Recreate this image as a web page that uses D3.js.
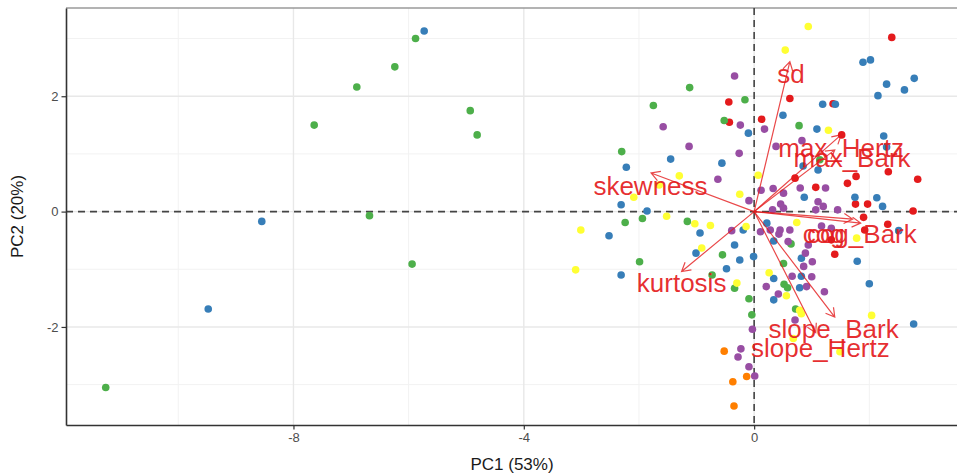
<!DOCTYPE html>
<html>
<head>
<meta charset="utf-8">
<script src="https://cdn.jsdelivr.net/npm/d3@7"></script>
<style>
  body { margin: 0; background: #fff; }
  svg { display: block; font-family: "Liberation Sans", Arial, sans-serif; }
</style>
</head>
<body>
<svg id="biplot" width="957" height="475"></svg>
<script>
// PCA scores, one array per group (Set1 colours: red, blue, green, purple, orange, yellow)
const scoresRed = [
  [2.39, 3.02], [0.62, 1.96], [-0.44, 1.90], [0.13, 1.60], [-0.43, 1.55], [1.37, 1.87],
  [1.52, 1.33], [0.71, 0.58], [1.07, 0.42], [1.77, 0.61], [1.62, 0.49], [2.33, 0.69],
  [2.84, 0.56], [1.76, 0.13], [1.97, 0.13], [2.76, 0.01], [1.90, -0.10], [2.32, -0.22],
  [1.92, -0.32], [1.40, -0.74], [1.34, -0.49]
];
const scoresBlue = [
  [-5.73, 3.13], [-8.55, -0.17], [-9.48, -1.69], [-2.22, 0.77], [-2.31, 0.12], [-2.52, -0.42],
  [-2.31, -1.10], [-1.45, 0.91], [-1.86, 0.01], [-1.01, -0.72], [-0.94, -0.37], [-0.56, 0.84],
  [-0.10, 1.36], [0.50, 1.67], [1.09, 1.43], [1.19, 1.86], [1.41, 1.86], [1.89, 2.59],
  [2.02, 2.63], [2.78, 2.31], [2.30, 2.21], [2.61, 2.11], [2.15, 2.01], [2.25, 1.31],
  [2.30, 1.12], [1.11, 0.72], [0.85, 0.79], [0.87, 0.25], [1.75, 0.25], [2.13, 0.24],
  [2.23, 0.09], [2.51, -0.33], [1.79, -0.86], [2.00, -1.25], [2.77, -1.95], [-0.34, -0.58],
  [-0.25, -0.84], [-0.01, -0.78], [-0.48, -0.99], [-0.19, -0.32], [0.22, -0.20], [0.34, -0.51],
  [0.34, -1.53], [0.34, -1.16], [0.79, -1.32], [0.82, -1.12], [0.82, -0.81]
];
const scoresGreen = [
  [-11.26, -3.05], [-7.64, 1.50], [-6.90, 2.16], [-6.24, 2.51], [-5.88, 3.00], [-4.93, 1.75],
  [-4.81, 1.33], [-6.68, -0.07], [-5.94, -0.91], [-2.30, 1.04], [-2.24, -0.19], [-1.94, -0.12],
  [-1.99, -0.87], [-1.75, 1.84], [-1.12, 2.15], [-1.16, -0.17], [-0.16, 1.94], [-0.52, 1.58],
  [0.78, 1.49], [-0.55, -0.75], [-0.73, -1.10], [-0.34, -1.33], [-0.09, -1.51], [-0.04, -1.79],
  [0.51, -0.90], [0.52, -1.26], [0.58, -1.32], [0.64, -0.56], [0.72, -1.69], [1.14, 0.90]
];
const scoresPurple = [
  [-0.34, 2.35], [-1.58, 1.47], [-1.13, 1.13], [-0.24, 1.50], [0.18, 1.43], [-0.26, 1.01],
  [-0.63, 0.56], [0.38, 1.13], [0.83, 1.23], [0.12, 0.37], [0.33, 0.40], [0.51, 0.32],
  [0.80, 0.41], [1.24, 0.41], [-0.09, 0.19], [0.46, 0.13], [0.32, 0.03], [0.51, 0.06],
  [1.11, 0.17], [1.20, 0.09], [1.07, 0.03], [1.45, 0.03], [-0.39, -0.33], [0.11, -0.35],
  [0.28, -0.32], [0.45, -0.32], [0.62, -0.32], [0.43, -0.39], [0.59, -0.52], [0.94, -0.58],
  [0.89, -0.72], [1.01, -0.87], [0.86, -0.95], [0.66, -1.12], [1.00, -1.13], [0.91, -1.30],
  [0.21, -1.30], [0.42, -1.43], [1.22, -1.39], [0.71, -1.88], [-0.03, -2.04], [-0.23, -2.38],
  [-0.28, -2.52], [-0.09, -2.69], [0.01, -2.85], [1.17, -0.25], [1.34, -0.29]
];
const scoresOrange = [
  [-0.52, -2.42], [-0.13, -2.86], [-0.37, -2.95], [-0.35, -3.37]
];
const scoresYellow = [
  [0.94, 3.21], [0.54, 2.80], [1.29, 1.41], [-1.30, 0.62], [-2.09, 0.25], [-3.01, -0.32],
  [-3.10, -1.01], [-1.52, -0.08], [0.07, 0.63], [-0.25, 0.30], [-1.03, -0.21], [-0.76, -0.24],
  [-0.14, -0.26], [-0.91, -0.63], [-0.30, -1.24], [0.26, -1.06], [0.56, -1.46], [0.79, -1.71],
  [0.82, -1.77], [2.04, -1.80], [0.68, -2.20], [1.49, -2.43], [0.74, -0.19], [1.78, -0.46],
  [-1.65, 0.46]
];

// variable loadings (arrow tips) and their label anchors
const varNames = ["sd", "skewness", "kurtosis", "max_Hertz", "max_Bark", "cog", "cog_Bark", "slope_Bark", "slope_Hertz"];
const loadX = [0.62, -1.79, -1.26, 1.51, 1.40, 1.71, 1.85, 1.40, 1.07];
const loadY = [2.60, 0.67, -1.04, 1.33, 1.07, -0.13, -0.20, -1.83, -2.10];
const labelX = [0.64, -1.80, -1.26, 1.51, 1.70, 1.21, 1.87, 1.38, 1.15];
const labelY = [2.23, 0.29, -1.39, 0.95, 0.78, -0.54, -0.54, -2.19, -2.52];

const xMajor = [-8, -4, 0];
const xMinor = [-10, -6, -2, 2];
const yMajor = [-2, 0, 2];
const yMinor = [-3, -1, 1, 3];

const groupData = [scoresRed, scoresBlue, scoresGreen, scoresPurple, scoresOrange, scoresYellow];
const color = d3.scaleOrdinal().domain(d3.range(6)).range(d3.schemeSet1);

const svg = d3.select("#biplot");
const panelLeft = 66, panelRight = 958, panelTop = 8, panelBottom = 425;

const x = d3.scaleLinear().domain([-11.95, 3.54]).range([panelLeft, panelRight]);
const y = d3.scaleLinear().domain([-3.70, 3.53]).range([panelBottom, panelTop]);

// grid
const grid = svg.append("g");
grid.selectAll(".xminor").data(xMinor).enter().append("line")
  .attr("x1", d => x(d)).attr("x2", d => x(d)).attr("y1", panelTop).attr("y2", panelBottom)
  .attr("stroke", "#f2f2f2").attr("stroke-width", 1);
grid.selectAll(".yminor").data(yMinor).enter().append("line")
  .attr("y1", d => y(d)).attr("y2", d => y(d)).attr("x1", panelLeft).attr("x2", panelRight)
  .attr("stroke", "#f2f2f2").attr("stroke-width", 1);
grid.selectAll(".xmajor").data(xMajor).enter().append("line")
  .attr("x1", d => x(d)).attr("x2", d => x(d)).attr("y1", panelTop).attr("y2", panelBottom)
  .attr("stroke", "#e8e8e8").attr("stroke-width", 1.4);
grid.selectAll(".ymajor").data(yMajor).enter().append("line")
  .attr("y1", d => y(d)).attr("y2", d => y(d)).attr("x1", panelLeft).attr("x2", panelRight)
  .attr("stroke", "#e8e8e8").attr("stroke-width", 1.4);

// panel top border
svg.append("line")
  .attr("x1", panelLeft).attr("x2", panelRight).attr("y1", panelTop).attr("y2", panelTop)
  .attr("stroke", "#9a9a9a").attr("stroke-width", 1.5);

// zero lines
svg.append("line")
  .attr("x1", panelLeft).attr("x2", panelRight).attr("y1", y(0)).attr("y2", y(0))
  .attr("stroke", "#444").attr("stroke-width", 1.6).attr("stroke-dasharray", "7,5");
svg.append("line")
  .attr("x1", x(0)).attr("x2", x(0)).attr("y1", panelTop).attr("y2", panelBottom)
  .attr("stroke", "#444").attr("stroke-width", 1.6).attr("stroke-dasharray", "7,5");

// points
groupData.forEach((pts, i) => {
  svg.append("g").selectAll("circle")
    .data(pts)
    .enter()
    .append("circle")
    .attr("cx", d => x(d[0]))
    .attr("cy", d => y(d[1]))
    .attr("r", 3.8)
    .attr("fill", color(i));
});

// loading arrows
const arrows = svg.append("g")
  .attr("stroke", "#e41a1c").attr("stroke-opacity", 0.8)
  .attr("stroke-width", 1.2).attr("fill", "none");
varNames.forEach((name, i) => {
  const x0 = x(0), y0 = y(0);
  const x1 = x(loadX[i]), y1 = y(loadY[i]);
  const a = Math.atan2(y1 - y0, x1 - x0);
  const len = 10, spread = Math.PI / 6;
  const path = d3.path();
  path.moveTo(x0, y0);
  path.lineTo(x1, y1);
  path.moveTo(x1 - len * Math.cos(a - spread), y1 - len * Math.sin(a - spread));
  path.lineTo(x1, y1);
  path.lineTo(x1 - len * Math.cos(a + spread), y1 - len * Math.sin(a + spread));
  arrows.append("path").attr("d", path.toString());
});

// loading labels
svg.append("g").selectAll("text")
  .data(varNames)
  .enter()
  .append("text")
  .attr("x", (d, i) => x(labelX[i]))
  .attr("y", (d, i) => y(labelY[i]))
  .attr("text-anchor", "middle")
  .attr("font-size", "26px")
  .attr("fill", "#e41a1c")
  .attr("fill-opacity", 0.92)
  .text(d => d);

// axes (plain hyphen for negatives, like the original)
const xAxis = svg.append("g")
  .attr("transform", `translate(0,${panelBottom})`)
  .call(d3.axisBottom(x).tickValues(xMajor).tickFormat(d => String(d))
    .tickSize(4.5).tickSizeOuter(0).tickPadding(3));
const yAxis = svg.append("g")
  .attr("transform", `translate(${panelLeft},0)`)
  .call(d3.axisLeft(y).tickValues(yMajor).tickFormat(d => String(d))
    .tickSize(4.5).tickSizeOuter(0).tickPadding(3));

[xAxis, yAxis].forEach(g => {
  g.select(".domain").attr("stroke", "#333").attr("stroke-width", 1.6);
  g.selectAll(".tick line").attr("stroke", "#333").attr("stroke-width", 1.2);
  g.selectAll(".tick text")
    .attr("fill", "#4d4d4d")
    .attr("font-size", "13px")
    .attr("font-family", "Liberation Sans, Arial, sans-serif");
});

// axis titles
svg.append("text")
  .attr("x", (panelLeft + panelRight) / 2)
  .attr("y", 470)
  .attr("text-anchor", "middle")
  .attr("font-size", "17px")
  .attr("fill", "#1a1a1a")
  .text("PC1 (53%)");

svg.append("text")
  .attr("transform", `translate(23,${(panelTop + panelBottom) / 2}) rotate(-90)`)
  .attr("text-anchor", "middle")
  .attr("font-size", "17px")
  .attr("fill", "#1a1a1a")
  .text("PC2 (20%)");
</script>
</body>
</html>
